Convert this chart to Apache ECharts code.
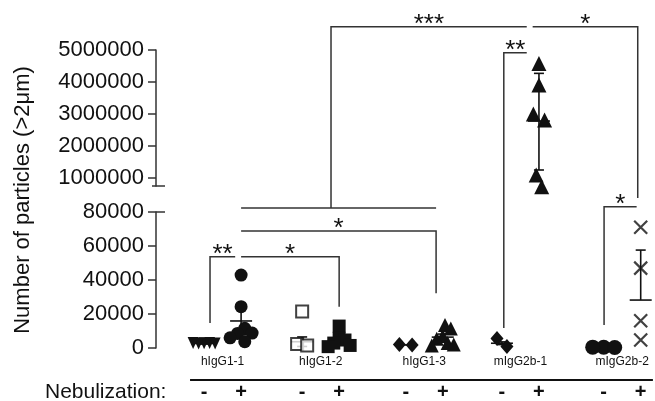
<!DOCTYPE html>
<html><head><meta charset="utf-8">
<script src="https://cdn.jsdelivr.net/npm/echarts@6/dist/echarts.min.js"></script>
<style>html,body{margin:0;padding:0;background:#fff}#c{width:655px;height:401px}</style>
</head><body><div id="c"></div>
<script>
// ---------- data ----------
const groups = ['hIgG1-1', 'hIgG1-2', 'hIgG1-3', 'mIgG2b-1', 'mIgG2b-2'];
const conditions = ['-', '+'];
const groupPos = [0, 2.65, 5.45, 8.05, 10.8];          // x of the "-" column, "+" column sits one unit right
const lowerTicks = [0, 20000, 40000, 60000, 80000];
const upperTicks = [1000000, 2000000, 3000000, 4000000, 5000000];

const hIgG1_1_minus = [2800, 3000, 2600, 2900, 2700];
const hIgG1_1_plus = [42900, 24300, 11600, 8800, 8600, 6000, 3700];
const hIgG1_2_minus = [21400, 2400, 1400];
const hIgG1_2_plus = [12900, 5700, 4700, 2900, 1500, 800];
const hIgG1_3_minus = [2000, 1700];
const hIgG1_3_plus = [13500, 11500, 7000, 5500, 3000, 2000, 1500];
const mIgG2b_1_minus = [5600, 900];
const mIgG2b_1_plus = [4580000, 3910000, 3000000, 2810000, 1090000, 730000];
const mIgG2b_2_minus = [400, 300, 500];
const mIgG2b_2_plus = [71000, 47000, 16000, 4700];

const meanVals = [2700, 15900, 3700, 5000, 1800, 6400, 2800, 2780000, 300, 28200];
const errHigh  = [3100, 24000, 6500, 6500, 2000, 8200, 3600, 4270000, 400, 57600];
const errLow   = [2300, 7800, 900, 3500, 1600, 4600, 2000, 1250000, 200, 28200];

// significance brackets: points [x, value, segment(0 = upper axis, 1 = lower axis)]
const brackets = [
  {label: '**',  pts: [[0.16, 14700, 1], [0.16, 53700, 1], [0.84, 53700, 1]]},
  {label: '*',   pts: [[1.0, 53700, 1], [3.65, 53700, 1], [3.65, 24300, 1]]},
  {label: '*',   pts: [[1.0, 68800, 1], [6.27, 68800, 1], [6.27, 32200, 1]]},
  {label: '',    pts: [[1.0, 82350, 1], [6.27, 82350, 1]]},
  {label: '***', pts: [[3.43, 82350, 1], [3.43, 5728000, 0], [8.72, 5728000, 0]]},
  {label: '**',  pts: [[8.10, 11765, 1], [8.10, 4915600, 0], [8.72, 4915600, 0]]},
  {label: '*',   pts: [[8.88, 5728000, 0], [11.72, 5728000, 0], [11.72, 88235, 1]]},
  {label: '*',   pts: [[10.81, 13530, 1], [10.81, 83100, 1], [11.69, 83100, 1]]}
];

// ---------- chart ----------
const FONT = 'Liberation Sans, Arial, sans-serif';
const INK = '#111';
const chart = echarts.init(document.getElementById('c'), null, {renderer: 'canvas'});

const axisStyle = {color: '#333', width: 1.5};
function yAx(grid, min, max, ticks) {
  return {
    type: 'value', gridIndex: grid, min: min, max: max,
    interval: grid === 1 ? 20000 : undefined,
    axisLine: {show: true, onZero: false, lineStyle: axisStyle},
    axisTick: {show: true, length: 8, lineStyle: axisStyle, customValues: ticks},
    axisLabel: {show: true, fontSize: 22, fontFamily: FONT, color: INK, margin: 12, customValues: ticks,
      formatter: v => String(v)},
    splitLine: {show: false}
  };
}
const base = {
  animation: false,
  grid: [
    {left: 156, right: 6.9, top: 50, bottom: 215},
    {left: 156, right: 6.9, top: 212, bottom: 53}
  ],
  xAxis: [
    {type: 'value', gridIndex: 0, min: -1.3, max: 12, show: false},
    {type: 'value', gridIndex: 1, min: -1.3, max: 12, show: false}
  ],
  yAxis: [yAx(0, 750000, 5000000, upperTicks), yAx(1, 0, 80000, lowerTicks)],
  series: []
};
chart.setOption(base);

const columns = [
  {v: hIgG1_1_minus, sym: 'triangle', rot: 180, size: [11, 12], fill: INK},
  {v: hIgG1_1_plus, sym: 'circle', size: 13, fill: INK},
  {v: hIgG1_2_minus, sym: 'rect', size: 12, fill: '#fff', open: true},
  {v: hIgG1_2_plus, sym: 'rect', size: 13, fill: INK},
  {v: hIgG1_3_minus, sym: 'diamond', size: [13, 15], fill: INK},
  {v: hIgG1_3_plus, sym: 'triangle', size: [14, 14], fill: INK},
  {v: mIgG2b_1_minus, sym: 'diamond', size: [13, 15], fill: INK},
  {v: mIgG2b_1_plus, sym: 'triangle', size: [15, 15], fill: INK},
  {v: mIgG2b_2_minus, sym: 'circle', size: 15, fill: INK},
  {v: mIgG2b_2_plus, sym: 'path://M0,0L10,10M10,0L0,10', size: 13, fill: 'none', cross: true}
];
columns.forEach((c, i) => {
  c.x = groupPos[Math.floor(i / 2)] + (i % 2);
  c.grid = c.v[0] > 1000000 ? 0 : 1;
});

const px = (g, x, y) => chart.convertToPixel({gridIndex: g}, [x, y]);
const unitPx = px(1, 1, 0)[0] - px(1, 0, 0)[0];
const K = 0.85, MAXHALF = 11;

function swarm(c) {
  const s = Array.isArray(c.size) ? Math.max(c.size[0], c.size[1]) : c.size;
  const d = s * K;
  const placed = [];
  c.v.forEach(val => {
    const py = px(c.grid, 0, val)[1];
    const forb = [];
    placed.forEach(p => {
      const dy = Math.abs(p.y - py);
      if (dy < d) { const w = Math.sqrt(d * d - dy * dy); forb.push([p.x - w, p.x + w]); }
    });
    const cands = [0];
    forb.forEach(f => cands.push(f[0], f[1]));
    cands.sort((a, b) => (Math.abs(a) - Math.abs(b)) || (b - a));
    let xo = 0;
    for (const cd of cands) {
      if (!forb.some(f => cd > f[0] + 1e-6 && cd < f[1] - 1e-6)) { xo = cd; break; }
    }
    placed.push({x: xo, y: py});
  });
  // centre each cluster of touching points on the column
  const comp = placed.map((_, i) => i);
  const find = i => comp[i] === i ? i : (comp[i] = find(comp[i]));
  placed.forEach((p, i) => placed.forEach((q, j) => { if (j > i && Math.abs(p.y - q.y) < d) comp[find(j)] = find(i); }));
  const ext = {};
  placed.forEach((p, i) => { const r = find(i); ext[r] = ext[r] || [Infinity, -Infinity]; ext[r][0] = Math.min(ext[r][0], p.x); ext[r][1] = Math.max(ext[r][1], p.x); });
  placed.forEach((p, i) => { const e = ext[find(i)]; p.x -= (e[0] + e[1]) / 2; });
  const m = Math.max(...placed.map(p => Math.abs(p.x)));
  const sc = m > MAXHALF ? MAXHALF / m : 1;
  return placed.map((p, k) => [c.x + p.x * sc / unitPx, c.v[k]]);
}

const series = [];
// error bars (behind points)
[0, 1].forEach(g => {
  const data = [];
  columns.forEach((c, i) => { if (c.grid === g) data.push([c.x, meanVals[i], errLow[i], errHigh[i]]); });
  series.push({
    type: 'custom', xAxisIndex: g, yAxisIndex: g, clip: false, z: 1,
    data: data,
    renderItem: (params, api) => {
      const x = api.value(0);
      const m = api.coord([x, api.value(1)]);
      const lo = api.coord([x, api.value(2)]);
      const hi = api.coord([x, api.value(3)]);
      const st = {stroke: INK, lineWidth: 1.6};
      const ch = [
        {type: 'line', shape: {x1: m[0], y1: hi[1], x2: m[0], y2: lo[1]}, style: st},
        {type: 'line', shape: {x1: m[0] - 11, y1: m[1], x2: m[0] + 11, y2: m[1]}, style: st}
      ];
      if (Math.abs(hi[1] - m[1]) > 0.5) ch.push({type: 'line', shape: {x1: m[0] - 5, y1: hi[1], x2: m[0] + 5, y2: hi[1]}, style: st});
      if (Math.abs(lo[1] - m[1]) > 0.5) ch.push({type: 'line', shape: {x1: m[0] - 5, y1: lo[1], x2: m[0] + 5, y2: lo[1]}, style: st});
      return {type: 'group', children: ch};
    }
  });
});
columns.forEach(c => {
  series.push({
    type: 'scatter', xAxisIndex: c.grid, yAxisIndex: c.grid, clip: false, z: 3,
    symbol: c.sym, symbolSize: c.size, symbolRotate: c.rot || 0,
    itemStyle: c.cross ? {color: 'rgba(0,0,0,0)', borderColor: INK, borderWidth: 2.2}
              : c.open ? {color: '#fff', borderColor: INK, borderWidth: 2} : {color: c.fill, opacity: 1},
    emphasis: {disabled: true},
    data: swarm(c)
  });
});

// ---------- annotations ----------
const graphic = [];
const lineSt = {stroke: '#333', lineWidth: 1.5};
brackets.forEach(b => {
  const pts = b.pts.map(p => px(p[2], p[0], p[1]));
  graphic.push({type: 'polyline', shape: {points: pts}, style: {stroke: '#333', lineWidth: 1.5, fill: null}, z: 5});
  if (b.label) {
    let seg = null;
    for (let k = 0; k < pts.length - 1; k++) if (Math.abs(pts[k][1] - pts[k + 1][1]) < 0.5) seg = [pts[k], pts[k + 1]];
    graphic.push({type: 'text', x: (seg[0][0] + seg[1][0]) / 2, y: seg[0][1] - 2,
      style: {text: b.label, font: '26px ' + FONT, fill: INK, align: 'center', verticalAlign: 'middle'}, z: 6});
  }
});
// axis break marks
const ub = px(0, -1.3, 750000), lt = px(1, -1.3, 80000);
graphic.push({type: 'line', shape: {x1: ub[0] - 4, y1: ub[1], x2: ub[0] + 9, y2: ub[1]}, style: lineSt});
graphic.push({type: 'line', shape: {x1: lt[0], y1: lt[1], x2: lt[0] + 9, y2: lt[1]}, style: lineSt});
// group labels, condition labels
const zero = px(1, 0, 0)[1];
groups.forEach((g, i) => {
  const p = px(1, groupPos[i] + 0.5, 0);
  graphic.push({type: 'text', x: p[0], y: zero + 14, style: {text: g, font: '12px ' + FONT, fill: INK, align: 'center', verticalAlign: 'middle'}});
  conditions.forEach((cnd, j) => {
    const q = px(1, groupPos[i] + j, 0);
    graphic.push({type: 'text', x: q[0], y: zero + 44, style: {text: cnd, font: 'bold 20px ' + FONT, fill: INK, align: 'center', verticalAlign: 'middle'}});
  });
});
const l0 = px(1, groupPos[0] - 0.38, 0), l1 = px(1, groupPos[4] + 1.33, 0);
graphic.push({type: 'line', shape: {x1: l0[0], y1: zero + 32, x2: l1[0], y2: zero + 32}, style: {stroke: INK, lineWidth: 2}});
graphic.push({type: 'text', x: 45, y: zero + 44, style: {text: 'Nebulization:', font: '21px ' + FONT, fill: INK, align: 'left', verticalAlign: 'middle'}});
graphic.push({type: 'text', x: 23, y: 200, rotation: Math.PI / 2,
  style: {text: 'Number of particles (>2μm)', font: '22px ' + FONT, fill: INK, align: 'center', verticalAlign: 'middle'}});

chart.setOption({series: series, graphic: graphic});
</script></body></html>
